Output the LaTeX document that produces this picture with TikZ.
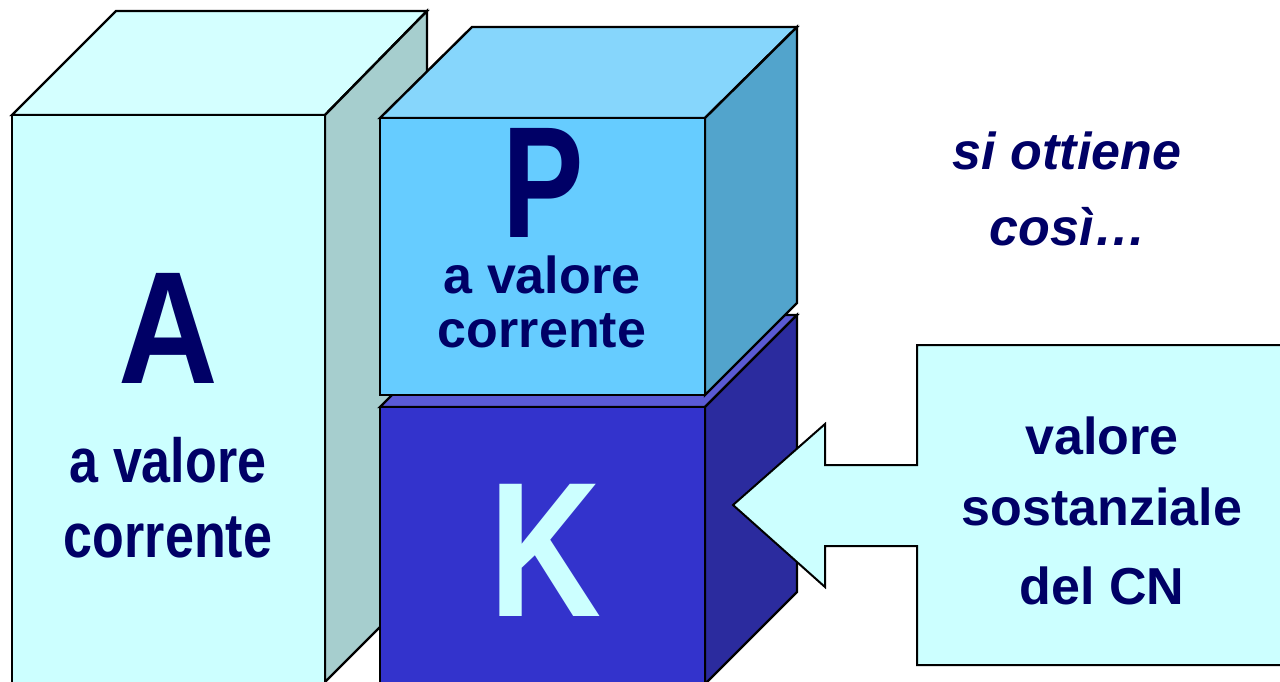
\documentclass[tikz,border=0pt]{standalone}
\usepackage{fontspec}
\setmainfont{Liberation Sans}
\usepackage{graphicx}
\definecolor{navy}{HTML}{000066}
\definecolor{aFront}{HTML}{CCFFFF}
\definecolor{aTop}{HTML}{D4FFFF}
\definecolor{aSide}{HTML}{A6CECE}
\definecolor{pFront}{HTML}{66CCFF}
\definecolor{pTop}{HTML}{86D6FC}
\definecolor{pSide}{HTML}{52A4CC}
\definecolor{kFront}{HTML}{3333CC}
\definecolor{kTop}{HTML}{5A5AD6}
\definecolor{kSide}{HTML}{2B2B9E}
\definecolor{callout}{HTML}{CCFFFF}
\begin{document}
\begin{tikzpicture}[x=1pt,y=-1pt,
  face/.style={draw=black,line width=2.4pt,line join=miter},
  bigletter/.style={anchor=base,inner sep=0pt},
  boxlabel/.style={anchor=base,inner sep=0pt,text=navy,font=\bfseries\fontsize{52}{60}\selectfont},
  note/.style={anchor=base,inner sep=0pt,text=navy,font=\bfseries\itshape\fontsize{52}{60}\selectfont}]
\useasboundingbox (0,0) rectangle (1280,682);
\clip (0,0) rectangle (1280,682);
\fill[white] (0,0) rectangle (1280,682);

% Box A (tall block on the left)
\filldraw[face,fill=aTop] (12,115) -- (116,11) -- (427,11) -- (325,115) -- cycle;
\filldraw[face,fill=aSide] (325,115) -- (427,11) -- (427,580) -- (325,682) -- cycle;
\filldraw[face,fill=aFront] (12,115) rectangle (325,690);

% Box K (lower block)
\filldraw[face,fill=kTop] (380,407) -- (472,315) -- (797,315) -- (705,407) -- cycle;
\filldraw[face,fill=kSide] (705,407) -- (797,315) -- (797,592) -- (705,684) -- cycle;
\filldraw[face,fill=kFront] (380,407) rectangle (705,690);

% Box P (upper block)
\filldraw[face,fill=pTop] (380,118) -- (472,27) -- (797,27) -- (705,118) -- cycle;
\filldraw[face,fill=pSide] (705,118) -- (797,27) -- (797,303) -- (705,395) -- cycle;
\filldraw[face,fill=pFront] (380,118) rectangle (705,395);

% Labels on the blocks
\node[bigletter,text=navy,font=\bfseries\fontsize{138}{138}\selectfont] (lA) at (168,383) {\scalebox{1}[1.16]{A}};
\node[boxlabel] (lA1) at (168,482) {\scalebox{1}[1.2]{a valore}};
\node[boxlabel] (lA2) at (168,557) {\scalebox{1}[1.2]{corrente}};

\node[bigletter,text=navy,font=\bfseries\fontsize{122}{122}\selectfont] (lP) at (543,237) {\scalebox{1}[1.3]{P}};
\node[boxlabel] (lP1) at (542,293) {a valore};
\node[boxlabel] (lP2) at (542,347) {corrente};

\node[bigletter,text=aFront,font=\bfseries\fontsize{155}{155}\selectfont] (lK) at (545,616) {\scalebox{1}[1.24]{K}};

% Callout arrow pointing at K
\filldraw[draw=black,line width=2pt,fill=callout]
  (917,345) -- (1290,345) -- (1290,665) -- (917,665) -- (917,546) -- (825,546)
  -- (825,587) -- (733,505) -- (825,424) -- (825,465) -- (917,465) -- cycle;
\node[boxlabel] (c1) at (1102,454) {valore};
\node[boxlabel] (c2) at (1102,525) {sostanziale};
\node[boxlabel] (c3) at (1102,604) {del CN};

% Side remark
\node[note] (n1) at (1067,170) {si ottiene};
\node[note] (n2) at (1068,245) {così…};
\end{tikzpicture}
\end{document}
